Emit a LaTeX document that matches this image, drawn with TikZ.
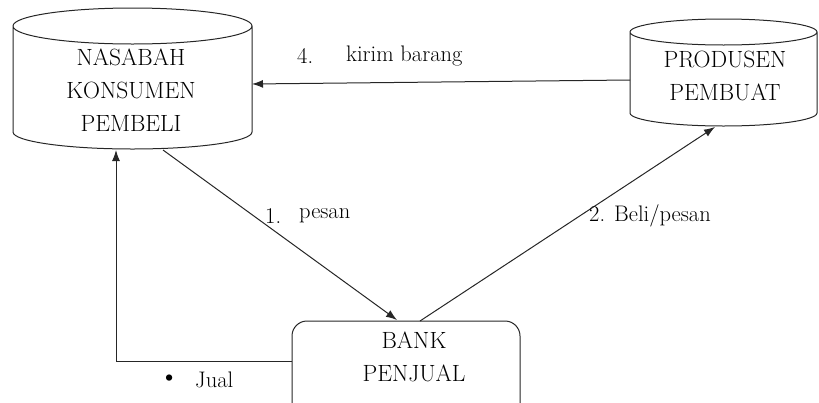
\documentclass[tikz,border=0pt]{standalone}
\usepackage{fontspec}
\usetikzlibrary{arrows.meta}
\begin{document}
\begin{tikzpicture}[x=1pt,y=-1pt,
  shapeline/.style={draw=black!85,line width=1pt},
  conn/.style={draw=black!85,line width=1pt,-{Latex[length=11pt,width=8pt]}},
  captxt/.style={font=\fontsize{23.5}{33}\selectfont,align=center,inner sep=0pt},
  lbl/.style={font=\fontsize{22.5}{22}\selectfont,inner sep=0pt,anchor=west}]
\useasboundingbox (0,0) rectangle (819,402);
% left cylinder
\draw[shapeline] (13,26) arc[x radius=119.5,y radius=18,start angle=180,end angle=-180]
  (13,26) -- (13,132) arc[x radius=119.5,y radius=17,start angle=180,end angle=0] -- (252,26);
\node[captxt] (nasabah) at (131,90) {NASABAH\\KONSUMEN\\PEMBELI};
% right cylinder
\draw[shapeline] (630,32) arc[x radius=93.5,y radius=13,start angle=180,end angle=-180]
  (630,32) -- (630,113) arc[x radius=93.5,y radius=13,start angle=180,end angle=0] -- (817,32);
\node[captxt] (produsen) at (725,76) {PRODUSEN\\PEMBUAT};
% bank
\draw[shapeline,rounded corners=15pt] (292,425) -- (292,321) -- (520,321) -- (520,425);
\node[captxt] (bank) at (414,357) {BANK\\PENJUAL};
% connector endpoints
\coordinate (prodL) at (630,80);
\coordinate (nasR) at (252,84);
\coordinate (nasB) at (163,150);
\coordinate (bankT1) at (397,320);
\coordinate (bankT2) at (420,321);
\coordinate (prodB) at (715,127);
\coordinate (bankL) at (292,361);
\coordinate (nasB2) at (116,150);
\draw[conn] (prodL) -- (nasR);
\draw[conn] (nasB) -- (bankT1);
\draw[conn] (bankT2) -- (prodB);
\draw[conn] (bankL) -- (116,361) -- (nasB2);
% labels
\node[lbl] (l4a) at (297,56) {4.};
\node[lbl] (l4b) at (346,56) {kirim barang};
\node[lbl] (l1a) at (265,216) {1.};
\node[lbl] (l1b) at (299,216) {pesan};
\node[lbl] (l2) at (589,216) {2. Beli/pesan};
\node[lbl,font=\fontsize{28}{22}\selectfont] (bul) at (159,380) {\textbullet};
\node[lbl] (jual) at (195,380) {Jual};
\end{tikzpicture}
\end{document}
